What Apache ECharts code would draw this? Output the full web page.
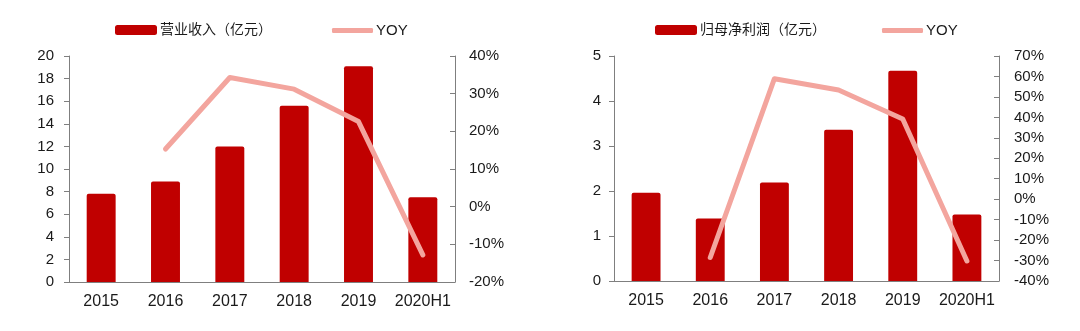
<!DOCTYPE html>
<html>
<head>
<meta charset="utf-8">
<script src="https://cdn.jsdelivr.net/npm/echarts@6/dist/echarts.min.js"></script>
<style>
html,body{margin:0;padding:0;background:#fff;}
#c{width:1080px;height:331px;}
</style>
</head>
<body>
<div id="c"></div>
<script>
const categories = ['2015', '2016', '2017', '2018', '2019', '2020H1'];
const revenue = [7.8, 8.9, 12.0, 15.6, 19.1, 7.5];
const revenueYoy = [null, 15.3, 34.3, 31.2, 22.6, -12.8];
const profit = [1.96, 1.39, 2.19, 3.36, 4.67, 1.48];
const profitYoy = [null, -28.5, 58.9, 53.4, 39.2, -30.2];
const revenueName = '营业收入（亿元）';
const profitName = '归母净利润（亿元）';
const yoyName = 'YOY';

const BAR = '#C00000';
const LINE = '#F3A59E';
const AXIS = '#7f7f7f';
const TXT = '#1a1a1a';
const FONT = '"Liberation Sans", Arial, "Noto Sans CJK SC", sans-serif';

const chart = echarts.init(document.getElementById('c'));

function xAxisCfg(gi) {
  return {
    type: 'category', gridIndex: gi, data: categories, boundaryGap: true,
    axisLine: {lineStyle: {color: AXIS, width: 1}},
    axisTick: {inside: true, length: 4, lineStyle: {color: AXIS}},
    axisLabel: {color: TXT, fontSize: 16, margin: 12, interval: 0, fontFamily: FONT}
  };
}
function yLeft(gi, max, interval, margin) {
  return {
    type: 'value', gridIndex: gi, min: 0, max: max, interval: interval, position: 'left',
    splitLine: {show: false},
    axisLine: {show: true, lineStyle: {color: AXIS}},
    axisTick: {show: true, length: 5, lineStyle: {color: AXIS}},
    axisLabel: {color: TXT, fontSize: 15, margin: margin, fontFamily: FONT}
  };
}
function yRight(gi, min, max, interval, margin) {
  return {
    type: 'value', gridIndex: gi, min: min, max: max, interval: interval, position: 'right',
    splitLine: {show: false},
    axisLine: {show: true, lineStyle: {color: AXIS}},
    axisTick: {show: true, inside: true, length: 5, lineStyle: {color: AXIS}},
    axisLabel: {color: TXT, fontSize: 15, margin: margin, fontFamily: FONT, formatter: '{value}%'}
  };
}
function legendBar(left, name) {
  return {
    left: left, top: 23, padding: 0, data: [{name: name, icon: 'roundRect'}],
    itemWidth: 42, itemHeight: 10, itemGap: 0,
    textStyle: {color: TXT, fontSize: 14, fontFamily: FONT, padding: [0, 0, 0, -2]}
  };
}
function legendLine(left) {
  return {
    left: left, top: 23, padding: 0, data: [{name: yoyName, icon: 'roundRect'}],
    itemWidth: 41, itemHeight: 5,
    textStyle: {color: TXT, fontSize: 15, fontFamily: FONT, padding: [0, 0, 0, -2]}
  };
}

chart.setOption({
  backgroundColor: '#ffffff',
  animation: false,
  textStyle: {fontFamily: FONT},
  grid: [
    {left: 69, top: 56, width: 386, height: 226},
    {left: 614, top: 56, width: 385, height: 225}
  ],
  legend: [
    legendBar(115, revenueName),
    legendLine(332),
    legendBar(655, profitName),
    legendLine(882)
  ],
  xAxis: [xAxisCfg(0), xAxisCfg(1)],
  yAxis: [
    yLeft(0, 20, 2, 15),
    yRight(0, -20, 40, 10, 14),
    yLeft(1, 5, 1, 13),
    yRight(1, -40, 70, 10, 15)
  ],
  series: [
    {name: revenueName, type: 'bar', xAxisIndex: 0, yAxisIndex: 0, data: revenue,
     barWidth: '45%', itemStyle: {color: BAR, borderRadius: [2, 2, 0, 0]}},
    {name: yoyName, type: 'line', xAxisIndex: 0, yAxisIndex: 1, data: revenueYoy,
     symbol: 'none', lineStyle: {color: LINE, width: 5, cap: 'round', join: 'round'},
     itemStyle: {color: LINE}, z: 5},
    {name: profitName, type: 'bar', xAxisIndex: 1, yAxisIndex: 2, data: profit,
     barWidth: '45%', itemStyle: {color: BAR, borderRadius: [2, 2, 0, 0]}},
    {name: yoyName, type: 'line', xAxisIndex: 1, yAxisIndex: 3, data: profitYoy,
     symbol: 'none', lineStyle: {color: LINE, width: 5, cap: 'round', join: 'round'},
     itemStyle: {color: LINE}, z: 5}
  ]
});
</script>
</body>
</html>
